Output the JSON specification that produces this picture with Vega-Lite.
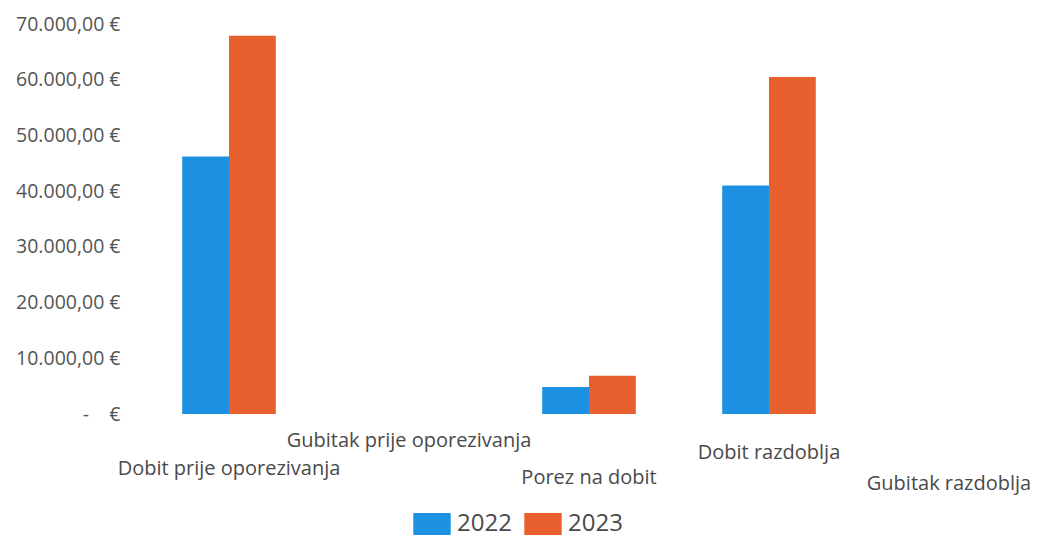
{
  "$schema": "https://vega.github.io/schema/vega-lite/v6.json",
  "autosize": {"type": "none"},
  "width": 900,
  "height": 390,
  "padding": {"left": 139, "top": 24, "right": 1, "bottom": 126},
  "background": "white",
  "config": {
    "view": {"stroke": null},
    "font": "Open Sans"
  },
  "data": {
    "values": [
      {"kategorija": "Dobit prije oporezivanja", "godina": "2022", "iznos": 46200},
      {"kategorija": "Dobit prije oporezivanja", "godina": "2023", "iznos": 67900},
      {"kategorija": "Gubitak prije oporezivanja", "godina": "2022", "iznos": 0},
      {"kategorija": "Gubitak prije oporezivanja", "godina": "2023", "iznos": 0},
      {"kategorija": "Porez na dobit", "godina": "2022", "iznos": 4850},
      {"kategorija": "Porez na dobit", "godina": "2023", "iznos": 6850},
      {"kategorija": "Dobit razdoblja", "godina": "2022", "iznos": 41000},
      {"kategorija": "Dobit razdoblja", "godina": "2023", "iznos": 60500},
      {"kategorija": "Gubitak razdoblja", "godina": "2022", "iznos": 0},
      {"kategorija": "Gubitak razdoblja", "godina": "2023", "iznos": 0}
    ]
  },
  "mark": {"type": "bar"},
  "encoding": {
    "x": {
      "field": "kategorija",
      "type": "nominal",
      "sort": null,
      "scale": {"paddingInner": 0.48, "paddingOuter": 0.24},
      "axis": {
        "title": null,
        "domain": false,
        "ticks": false,
        "labelAngle": 0,
        "labelBaseline": "middle",
        "labelPadding": {
          "condition": [
            {"test": "datum.value == 'Dobit prije oporezivanja'", "value": 54},
            {"test": "datum.value == 'Gubitak prije oporezivanja'", "value": 26},
            {"test": "datum.value == 'Porez na dobit'", "value": 63},
            {"test": "datum.value == 'Dobit razdoblja'", "value": 38}
          ],
          "value": 69
        },
        "labelFontSize": 20,
        "labelColor": "#4a4a4a",
        "labelLimit": 400
      }
    },
    "xOffset": {"field": "godina", "type": "nominal", "scale": {"paddingInner": 0, "paddingOuter": 0}},
    "y": {
      "field": "iznos",
      "type": "quantitative",
      "scale": {"domain": [0, 70000], "nice": false},
      "axis": {
        "title": null,
        "domain": false,
        "ticks": false,
        "grid": false,
        "values": [0, 10000, 20000, 30000, 40000, 50000, 60000, 70000],
        "labelExpr": "datum.value == 0 ? '-\u00a0\u00a0\u00a0\u00a0€' : format(datum.value / 1000, 'd') + '.000,00 €'",
        "labelPadding": 19,
        "labelFontSize": 19.5,
        "labelColor": "#555555"
      }
    },
    "color": {
      "field": "godina",
      "type": "nominal",
      "scale": {"domain": ["2022", "2023"], "range": ["#1c91e2", "#e9602f"]},
      "legend": {
        "title": null,
        "orient": "none",
        "direction": "horizontal",
        "legendX": 281,
        "legendY": 488,
        "symbolType": "M-1.7,-1H1.7V1H-1.7Z",
        "symbolSize": 484,
        "symbolStrokeWidth": 0,
        "labelFontSize": 24,
        "labelColor": "#4a4a4a",
        "labelOffset": 13,
        "columnPadding": 12
      }
    }
  }
}
